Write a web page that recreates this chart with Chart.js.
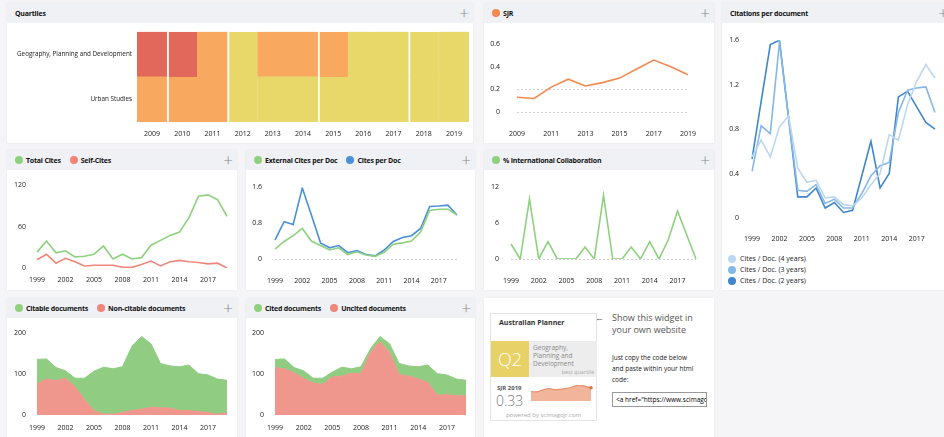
<!DOCTYPE html>
<html>
<head>
<meta charset="utf-8">
<script src="https://cdn.jsdelivr.net/npm/chart.js@4.4.0/dist/chart.umd.min.js"></script>
<style>
  body { margin: 0; width: 944px; height: 437px; overflow: hidden; position: relative; background: #f5f5f7; font-family: 'Open Sans', sans-serif; }
  .panel { position: absolute; background: #fff; overflow: hidden; box-shadow: 0 0 2px rgba(0,0,0,0.07); }
  .head { position: absolute; left: 0; top: 0; right: 0; height: 20px; background: #f0f1f5; }
  .head .items { position: absolute; left: 8px; top: 0; height: 20px; display: flex; align-items: center; font-size: 7px; font-weight: bold; color: #111; letter-spacing: -0.2px; white-space: nowrap; }
  .head .item { display: flex; align-items: center; margin-right: 9px; }
  .dot { width: 8px; height: 8px; border-radius: 50%; margin-right: 3px; }
  .plus { position: absolute; right: 4px; top: 1px; font-size: 17px; line-height: 17px; color: #8a8a8a; font-weight: 300; }
  .panel canvas { position: absolute; left: 0; top: 20px; }
  .legend { position: absolute; left: 6px; top: 250px; font-size: 7px; color: #222; }
  .legend div { display: flex; align-items: center; height: 11px; }
  .legend .dot { margin-right: 4px; }
  #widget { position: absolute; left: 6px; top: 15px; width: 107px; height: 108px; border: 1px solid #e4e4e4; background: #fff; box-sizing: border-box; }
  #widget .wt { position: absolute; left: 8px; top: 4px; font-size: 7px; font-weight: bold; color: #333; }
  #widget .q { position: absolute; left: 0; top: 27px; width: 38px; height: 36px; background: #e8d166; color: #fff; font-size: 18px; font-weight: 300; text-align: center; line-height: 36px; }
  #widget .cat { position: absolute; left: 38px; top: 27px; width: 68px; height: 36px; background: #ededed; }
  #widget .cat .n { position: absolute; left: 4px; top: 3px; font-size: 6.5px; line-height: 8px; color: #8a8a8a; }
  #widget .cat .b { position: absolute; right: 3px; bottom: 1px; font-size: 5.5px; color: #aaa; }
  #widget .sj { position: absolute; left: 6px; top: 70px; font-size: 6px; font-weight: bold; color: #555; }
  #widget .sv { position: absolute; left: 5px; top: 77px; font-size: 14px; color: #777; font-weight: 300; }
  #widget .pw { position: absolute; left: 0; right: 0; top: 97px; text-align: center; font-size: 6px; color: #aaa; }
  #widget canvas { position: absolute; left: 36px; top: 67px; }
  .share { position: absolute; left: 114px; top: 14px; font-size: 9px; line-height: 12px; color: #555; }
  .share .ar { position: absolute; left: -3px; top: 0; }
  .share .t { margin-left: 14px; }
  .copy { position: absolute; left: 128px; top: 54px; font-size: 6.5px; line-height: 11px; color: #222; }
  .code { position: absolute; left: 128px; top: 94px; width: 95px; height: 15px; border: 1px solid #999; box-sizing: border-box; font-size: 6.5px; line-height: 13px; padding-left: 3px; color: #000; white-space: nowrap; overflow: hidden; }
</style>
</head>
<body>

<div class="panel" style="left:7px;top:3px;width:466px;height:140px"><div class="head" id="h-quart"></div><canvas id="c-quart" width="466" height="120"></canvas></div>
<div class="panel" style="left:484px;top:3px;width:230px;height:140px"><div class="head" id="h-sjr"></div><canvas id="c-sjr" width="230" height="120"></canvas></div>
<div class="panel" style="left:722px;top:3px;width:230px;height:287px"><div class="head" id="h-cpd"></div><canvas id="c-cpd" width="230" height="230"></canvas><div class="legend" id="l-cpd"></div></div>
<div class="panel" style="left:7px;top:150px;width:230px;height:140px"><div class="head" id="h-cites"></div><canvas id="c-cites" width="230" height="120"></canvas></div>
<div class="panel" style="left:246px;top:150px;width:229px;height:140px"><div class="head" id="h-ext"></div><canvas id="c-ext" width="229" height="120"></canvas></div>
<div class="panel" style="left:484px;top:150px;width:230px;height:140px"><div class="head" id="h-intl"></div><canvas id="c-intl" width="230" height="120"></canvas></div>
<div class="panel" style="left:7px;top:298px;width:230px;height:140px"><div class="head" id="h-citable"></div><canvas id="c-citable" width="230" height="119"></canvas></div>
<div class="panel" style="left:246px;top:298px;width:229px;height:140px"><div class="head" id="h-cited"></div><canvas id="c-cited" width="229" height="119"></canvas></div>
<div class="panel" style="left:484px;top:298px;width:230px;height:140px">
  <div id="widget">
    <div class="wt">Australian Planner</div>
    <div class="q">Q2</div>
    <div class="cat"><div class="n">Geography,<br>Planning and<br>Development</div><div class="b">best quartile</div></div>
    <div class="sj">SJR 2019</div>
    <div class="sv">0.33</div>
    <canvas id="c-spark" width="68" height="24"></canvas>
    <div class="pw">powered by scimagojr.com</div>
  </div>
  <div class="share"><span class="ar">&larr;</span><div class="t">Show this widget in</div><div class="t">your own website</div></div>
  <div class="copy">Just copy the code below<br>and paste within your html<br>code:</div>
  <div class="code">&lt;a href="https://www.scimagojr.com/journalsearch.php?q=</div>
</div>

<script>
// ---- data ----
const years = ['1999','2000','2001','2002','2003','2004','2005','2006','2007','2008','2009','2010','2011','2012','2013','2014','2015','2016','2017','2018','2019'];

const quartileYears = ['2009','2010','2011','2012','2013','2014','2015','2016','2017','2018','2019'];
const subjects = ['Urban Studies', 'Geography, Planning and Development'];
const urbanQuartiles = ['Q3','Q3','Q3','Q2','Q2','Q2','Q2','Q2','Q2','Q2','Q2'];
const geographyQuartiles = ['Q4','Q4','Q3','Q2','Q3','Q3','Q3','Q2','Q2','Q2','Q2'];

const sjrYears = ['2009','2010','2011','2012','2013','2014','2015','2016','2017','2018','2019'];
const sjr = [0.13, 0.12, 0.22, 0.29, 0.23, 0.26, 0.30, 0.38, 0.46, 0.40, 0.33];

const citesPerDoc4 = [0.55, 0.70, 0.55, 0.82, 0.92, 0.45, 0.32, 0.34, 0.18, 0.19, 0.12, 0.11, 0.18, 0.30, 0.40, 0.75, 0.70, 1.02, 1.23, 1.38, 1.26];
const citesPerDoc3 = [0.42, 0.83, 0.76, 1.58, 0.90, 0.25, 0.24, 0.30, 0.13, 0.17, 0.09, 0.09, 0.22, 0.38, 0.47, 0.50, 0.95, 1.15, 1.17, 1.18, 0.95];
const citesPerDoc2 = [0.53, 1.05, 1.56, 1.60, 0.90, 0.19, 0.19, 0.27, 0.09, 0.14, 0.05, 0.07, 0.38, 0.69, 0.27, 0.40, 1.09, 1.14, 1.00, 0.86, 0.80];

const totalCites = [23, 39, 22, 25, 16, 17, 20, 32, 13, 20, 13, 15, 33, 40, 47, 52, 73, 104, 106, 99, 75];
const selfCites = [12, 20, 7, 14, 9, 3, 4, 4, 4, 1, 1, 5, 10, 3, 9, 11, 9, 8, 6, 7, 0];

const externalCitesPerDoc = [0.22, 0.39, 0.52, 0.68, 0.40, 0.30, 0.20, 0.25, 0.10, 0.16, 0.09, 0.06, 0.15, 0.33, 0.36, 0.40, 0.60, 1.08, 1.11, 1.11, 0.98];
const citesPerDoc = [0.42, 0.83, 0.77, 1.58, 0.98, 0.36, 0.25, 0.30, 0.14, 0.19, 0.10, 0.07, 0.20, 0.39, 0.48, 0.52, 0.68, 1.17, 1.18, 1.20, 0.98];

const intlCollab = [2.5, 0, 10, 0, 2.9, 0, 0, 0, 2, 0, 10.6, 0, 0, 2, 0, 2.9, 0, 3.2, 8, 4, 0];

const citableDocs = [60, 49, 32, 18, 21, 52, 96, 115, 111, 112, 157, 178, 155, 108, 103, 107, 111, 93, 92, 86, 80];
const nonCitableDocs = [76, 88, 84, 90, 69, 38, 11, 2, 2, 6, 11, 14, 19, 18, 17, 11, 11, 8, 6, 2, 5];

const citedDocs = [20, 24, 13, 18, 12, 15, 12, 22, 11, 17, 9, 13, 21, 27, 25, 30, 42, 53, 48, 41, 38];
const uncitedDocs = [116, 113, 103, 90, 78, 75, 93, 95, 102, 101, 153, 179, 153, 99, 95, 88, 80, 48, 50, 47, 47];

// ---- styles ----
const GREEN = '#8fd07f', RED = '#f0867b', BLUE = '#4a90d9', ORANGE = '#f4884f';
const qColor = { Q1: '#a4cf63', Q2: '#e8d86a', Q3: '#f8a95f', Q4: '#e2685c' };
const tickFont = { family: 'Open Sans', size: 7 };

function header(id, title, items) {
  let html = '<div class="items">';
  if (title) html += '<div class="item">' + title + '</div>';
  (items || []).forEach(it => {
    html += '<div class="item"><span class="dot" style="background:' + it.color + '"></span>' + it.label + '</div>';
  });
  html += '</div><div class="plus">+</div>';
  document.getElementById(id).innerHTML = html;
}

function onGrid(list, v) {
  return (list || []).some(g => Math.abs(g - v) < 1e-6);
}

function baseOptions(o) {
  return {
    responsive: false,
    animation: false,
    layout: { padding: { top: o.padT, right: o.padR, left: 0, bottom: 0 } },
    plugins: { legend: { display: false }, tooltip: { enabled: false } },
    elements: { point: { radius: 0 }, line: { tension: 0, borderWidth: 1.6 } },
    scales: {
      x: {
        offset: false,
        grid: { display: false, drawTicks: false },
        border: { display: false },
        afterFit: s => { s.height = o.xH; },
        ticks: {
          autoSkip: false, maxRotation: 0, padding: o.xPad, color: '#222', font: tickFont,
          callback: function (v, i) { return i % o.every === 0 ? this.getLabelForValue(v) : ''; }
        }
      },
      y: {
        min: 0, max: o.max, stacked: !!o.stacked,
        grid: {
          drawTicks: false, lineWidth: 1,
          color: ctx => ctx.tick && onGrid(o.grid, ctx.tick.value) ? '#cfcfcf' : 'rgba(0,0,0,0)'
        },
        border: { display: false, dash: [2, 2] },
        afterFit: s => { s.width = o.yW; },
        ticks: { stepSize: o.step, padding: o.yPad, color: '#222', font: tickFont }
      }
    }
  };
}

function lineChart(id, labels, datasets, o) {
  return new Chart(document.getElementById(id), {
    type: 'line',
    data: { labels: labels, datasets: datasets },
    options: baseOptions(o)
  });
}

// ---- quartiles heatmap ----
header('h-quart', 'Quartiles');
const sepCols = [1, 3, 6, 9];
const cellBorder = ctx => sepCols.includes(ctx.dataIndex) ? { left: 2, right: 0, top: 0, bottom: 0 } : 0;
new Chart(document.getElementById('c-quart'), {
  type: 'bar',
  data: {
    labels: quartileYears,
    datasets: [
      { label: subjects[0], data: urbanQuartiles.map(() => 1), backgroundColor: urbanQuartiles.map(q => qColor[q]),
        borderColor: '#fff', borderWidth: cellBorder, borderSkipped: false },
      { label: subjects[1], data: geographyQuartiles.map(() => 1), backgroundColor: geographyQuartiles.map(q => qColor[q]),
        borderColor: '#fff', borderWidth: cellBorder, borderSkipped: false }
    ]
  },
  options: {
    responsive: false, animation: false,
    layout: { padding: { top: 6, right: 4, left: 0, bottom: 0 } },
    plugins: { legend: { display: false }, tooltip: { enabled: false } },
    datasets: { bar: { barPercentage: 1, categoryPercentage: 1 } },
    scales: {
      x: { stacked: true, grid: { display: false, drawTicks: false }, border: { display: false },
           afterFit: s => { s.height = 21; },
           ticks: { padding: 8, color: '#222', font: tickFont, autoSkip: false, maxRotation: 0 } },
      y: { stacked: true, min: 0, max: 2, grid: { display: false, drawTicks: false }, border: { display: false },
           afterFit: s => { s.width = 130; },
           afterBuildTicks: s => { s.ticks = [{ value: 0.5 }, { value: 1.5 }]; },
           ticks: { padding: 5, color: '#222', font: { family: 'Open Sans', size: 6.3 }, callback: v => subjects[Math.floor(v)] } }
    }
  }
});

// ---- SJR ----
header('h-sjr', '', [{ label: 'SJR', color: ORANGE }]);
lineChart('c-sjr', sjrYears, [
  { label: 'SJR', data: sjr, borderColor: ORANGE }
], { padT: 16, padR: 6, xH: 31, xPad: 18, yW: 33, yPad: 17, max: 0.6, step: 0.2, every: 2, grid: [0, 0.2] });

// ---- Citations per document ----
header('h-cpd', 'Citations per document');
const cpdSets = [
  { label: 'Cites / Doc. (4 years)', data: citesPerDoc4, borderColor: '#bcd7f0' },
  { label: 'Cites / Doc. (3 years)', data: citesPerDoc3, borderColor: '#86b8e6' },
  { label: 'Cites / Doc. (2 years)', data: citesPerDoc2, borderColor: '#3f86cc' }
];
lineChart('c-cpd', years, cpdSets,
  { padT: 16, padR: 10, xH: 35, xPad: 17, yW: 30, yPad: 13, max: 1.6, step: 0.4, every: 3 });
document.getElementById('l-cpd').innerHTML = cpdSets.map(d =>
  '<div><span class="dot" style="background:' + d.borderColor + '"></span>' + d.label + '</div>').join('');

// ---- Total cites / self cites ----
header('h-cites', '', [{ label: 'Total Cites', color: GREEN }, { label: 'Self-Cites', color: RED }]);
lineChart('c-cites', years, [
  { label: 'Total Cites', data: totalCites, borderColor: GREEN },
  { label: 'Self-Cites', data: selfCites, borderColor: RED }
], { padT: 11, padR: 10, xH: 22, xPad: 8, yW: 30, yPad: 11, max: 120, step: 60, every: 3 });

// ---- External cites per doc ----
header('h-ext', '', [{ label: 'External Cites per Doc', color: GREEN }, { label: 'Cites per Doc', color: BLUE }]);
lineChart('c-ext', years, [
  { label: 'External Cites per Doc', data: externalCitesPerDoc, borderColor: GREEN },
  { label: 'Cites per Doc', data: citesPerDoc, borderColor: BLUE }
], { padT: 17, padR: 9, xH: 31, xPad: 18, yW: 29, yPad: 13, max: 1.6, step: 0.8, every: 3, grid: [0] });

// ---- International collaboration ----
header('h-intl', '', [{ label: '% International Collaboration', color: GREEN }]);
lineChart('c-intl', years, [
  { label: '% International Collaboration', data: intlCollab, borderColor: GREEN }
], { padT: 17, padR: 11, xH: 31, xPad: 18, yW: 27, yPad: 12, max: 12, step: 6, every: 3, grid: [0] });

// ---- Citable / non-citable ----
header('h-citable', '', [{ label: 'Citable documents', color: GREEN }, { label: 'Non-citable documents', color: RED }]);
lineChart('c-citable', years, [
  { label: 'Non-citable documents', data: nonCitableDocs, borderColor: '#f0978d', backgroundColor: '#f0978d', fill: 'origin', borderWidth: 1 },
  { label: 'Citable documents', data: citableDocs, borderColor: '#90cd82', backgroundColor: '#90cd82', fill: '-1', borderWidth: 1 }
], { padT: 9, padR: 10, xH: 22, xPad: 9, yW: 30, yPad: 11, max: 200, step: 100, every: 3, stacked: true });

// ---- Cited / uncited ----
header('h-cited', '', [{ label: 'Cited documents', color: GREEN }, { label: 'Uncited documents', color: RED }]);
lineChart('c-cited', years, [
  { label: 'Uncited documents', data: uncitedDocs, borderColor: '#f0978d', backgroundColor: '#f0978d', fill: 'origin', borderWidth: 1 },
  { label: 'Cited documents', data: citedDocs, borderColor: '#90cd82', backgroundColor: '#90cd82', fill: '-1', borderWidth: 1 }
], { padT: 9, padR: 9, xH: 22, xPad: 9, yW: 29, yPad: 11, max: 200, step: 100, every: 3, stacked: true });

// ---- widget sparkline ----
new Chart(document.getElementById('c-spark'), {
  type: 'line',
  data: { labels: sjrYears, datasets: [{ data: sjr, borderColor: '#ec8f68', backgroundColor: '#f2b49a', fill: 'start', borderWidth: 1.2,
    pointRadius: ctx => ctx.dataIndex === sjr.length - 1 ? 1.8 : 0, pointBackgroundColor: '#e8744a', pointBorderWidth: 0 }] },
  options: {
    responsive: false, animation: false,
    layout: { padding: { top: 2, right: 2, left: 0, bottom: 0 } },
    plugins: { legend: { display: false }, tooltip: { enabled: false } },
    elements: { line: { tension: 0.3 } },
    scales: { x: { display: false }, y: { display: false, min: -0.35, max: 0.47 } }
  }
});
</script>
</body>
</html>
